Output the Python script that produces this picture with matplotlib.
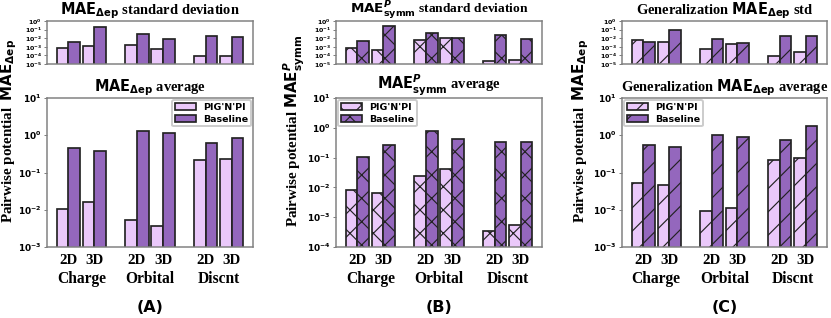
import numpy as np
import matplotlib
matplotlib.use("Agg")
import matplotlib.pyplot as plt
from matplotlib.ticker import FixedLocator, FuncFormatter, NullLocator

DPI = 140
W, H = 831, 318


def pt(px):
    return px * 72.0 / DPI


groups = ["Charge", "Orbital", "Discnt"]
dims = ["2D", "3D"]
methods = ["PIG'N'PI", "Baseline"]

# values per (group, dim): Charge 2D, Charge 3D, Orbital 2D, Orbital 3D, Discnt 2D, Discnt 3D
a_std_pig = [7.5e-4, 1.3e-3, 1.5e-3, 5.2e-4, 8.7e-5, 8.7e-5]
a_std_base = [3.8e-3, 0.2, 0.035, 7.8e-3, 0.019, 0.0145]
a_avg_pig = [0.0098, 0.016, 0.0048, 0.0032, 0.22, 0.23]
a_avg_base = [0.46, 0.38, 1.34, 1.16, 0.61, 0.865]

b_std_pig = [8.1e-4, 4.4e-4, 5.9e-3, 0.011, 2.0e-5, 2.5e-5]
b_std_base = [4.6e-3, 0.26, 0.043, 9.8e-3, 0.021, 8.5e-3]
b_avg_pig = [0.0079, 0.0065, 0.025, 0.043, 2.9e-4, 5.0e-4]
b_avg_base = [0.105, 0.26, 0.77, 0.41, 0.34, 0.34]

c_std_pig = [5.9e-3, 3.2e-3, 5.8e-4, 2.2e-3, 8.7e-5, 2.6e-4]
c_std_base = [3.8e-3, 0.095, 8.5e-3, 2.9e-3, 0.016, 0.016]
c_avg_pig = [0.052, 0.045, 0.0085, 0.0107, 0.22, 0.24]
c_avg_base = [0.54, 0.48, 1.0, 0.92, 0.76, 1.82]

LIGHT = "#eac8fa"
DARK = "#9467bd"
SPINE = "#808080"

plt.rcParams["font.family"] = "serif"
plt.rcParams["font.serif"] = ["Liberation Serif", "DejaVu Serif"]
plt.rcParams["font.weight"] = "bold"
plt.rcParams["mathtext.fontset"] = "dejavusans"
plt.rcParams["hatch.linewidth"] = 0.6
plt.rcParams["hatch.color"] = "black"

fig = plt.figure(figsize=(W / DPI, H / DPI), dpi=DPI)

mae_dep = r"$\mathbf{MAE_{\Delta ep}}$"
mae_sym = r"$\mathbf{MAE}^{P}_{\mathrm{symm}}$"

panels = [
    dict(x0=47, x1=253, std=(a_std_pig, a_std_base), avg=(a_avg_pig, a_avg_base),
         hatch=None, ymin=1e-3, t1=mae_dep + " standard deviation", t2=mae_dep + " average",
         ylab="Pairwise potential  " + mae_dep, yx=9, loc="upper right", tag="(A)",
         tpad=4, tsize=14.5),
    dict(x0=336, x1=542, std=(b_std_pig, b_std_base), avg=(b_avg_pig, b_avg_base),
         hatch="xx", ymin=1e-4, t1=mae_sym + " standard deviation", t2=mae_sym + " average",
         ylab="Pairwise potential " + mae_sym, yx=294, loc="upper left", tag="(B)",
         tpad=0.5, tsize=13.5),
    dict(x0=622, x1=827, std=(c_std_pig, c_std_base), avg=(c_avg_pig, c_avg_base),
         hatch="//", ymin=1e-3, t1="Generalization " + mae_dep + " std",
         t2="Generalization " + mae_dep + " average",
         ylab="Pairwise potential  " + mae_dep, yx=581, loc="upper left", tag="(C)",
         tpad=4, tsize=14.5),
]

gx = np.arange(len(groups))
off = 0.19
bw = 0.17
pair_x = np.array([g + s * off for g in gx for s in (-1, 1)])
tick_fmt = FuncFormatter(lambda v, p: r"$\mathbf{10^{%d}}$" % int(round(np.log10(v))))


def style_axes(ax, ymin, ymax, lab_px):
    ax.set_yscale("log")
    ax.set_ylim(ymin, ymax)
    ax.set_xlim(-0.5, 2.5)
    decs = np.arange(int(np.log10(ymin)), int(np.log10(ymax)) + 1)
    ax.yaxis.set_major_locator(FixedLocator(10.0 ** decs))
    ax.yaxis.set_minor_locator(NullLocator())
    ax.yaxis.set_major_formatter(tick_fmt)
    ax.tick_params(axis="y", labelsize=pt(lab_px), length=pt(3), width=pt(1), pad=pt(2),
                   color=SPINE)
    ax.tick_params(axis="x", length=0)
    for s in ax.spines.values():
        s.set_color(SPINE)
        s.set_linewidth(pt(1.5))


def draw_bars(ax, pig, base, hatch, ymin):
    bars = []
    for vals, col, sgn, name in ((pig, LIGHT, -1, methods[0]), (base, DARK, 1, methods[1])):
        b = ax.bar(pair_x + sgn * bw / 2, vals, width=bw, bottom=ymin * 0.5, color=col,
                   edgecolor="#222222", linewidth=pt(1.7), hatch=hatch, label=name)
        bars.append(b)
    return bars


for p in panels:
    fx0 = p["x0"] / W
    fw = (p["x1"] - p["x0"]) / W
    ax_top = fig.add_axes([fx0, 1 - 64 / H, fw, 43 / H])
    ax_bot = fig.add_axes([fx0, 1 - 247 / H, fw, 149 / H])

    style_axes(ax_top, 1e-5, 1, 6.3)
    draw_bars(ax_top, p["std"][0], p["std"][1], p["hatch"], 1e-5)
    ax_top.set_xticks([])
    ax_top.set_title(p["t1"], fontsize=pt(p["tsize"]), fontweight="bold", pad=pt(p["tpad"]))

    style_axes(ax_bot, p["ymin"], 10, 9)
    draw_bars(ax_bot, p["avg"][0], p["avg"][1], p["hatch"], p["ymin"])
    ax_bot.set_title(p["t2"], fontsize=pt(14.5), fontweight="bold", pad=pt(5))
    ax_bot.set_xticks(pair_x, dims * len(groups), fontsize=pt(15), fontweight="bold")
    ax_bot.tick_params(axis="x", pad=pt(7))

    sec = ax_bot.secondary_xaxis("bottom")
    sec.set_xticks(gx, groups, fontsize=pt(15.5), fontweight="bold")
    sec.tick_params(axis="x", length=0, pad=pt(24))
    sec.spines["bottom"].set_visible(False)

    leg = ax_bot.legend(loc=p["loc"], prop=dict(family="DejaVu Sans", weight="bold", size=pt(9.5)),
                        handlelength=2.2, handleheight=0.7, borderaxespad=0.2,
                        borderpad=0.3, labelspacing=0.3, handletextpad=0.8,
                        framealpha=1, edgecolor="#cccccc", fancybox=True)

    fig.text(p["yx"] / W, 1 - 131 / H, p["ylab"], rotation=90, ha="center", va="center",
             fontsize=pt(15), fontweight="bold")
    fig.text((p["x0"] + p["x1"]) / 2 / W, 1 - 307 / H, p["tag"], ha="center", va="center",
             fontsize=pt(16), fontweight="bold", family="DejaVu Sans")

fig.savefig("out.png", dpi=DPI)
